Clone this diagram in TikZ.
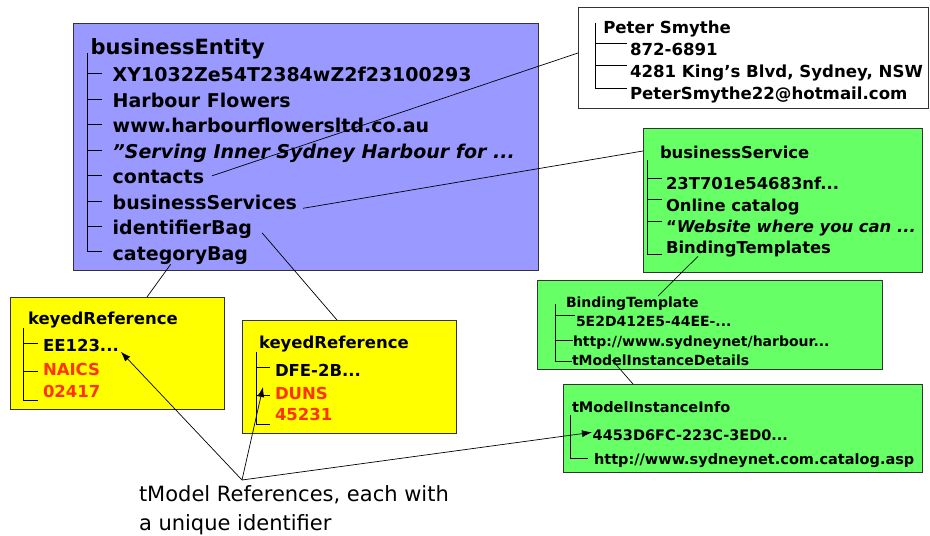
\documentclass[tikz,border=0pt]{standalone}
\usepackage{fontspec}
\setmainfont{DejaVu Sans}
\usetikzlibrary{arrows.meta,calc}

\definecolor{entblue}{HTML}{9999FF}
\definecolor{svcgreen}{HTML}{66FF66}
\definecolor{refyellow}{HTML}{FFFF00}
\definecolor{codered}{HTML}{FF3300}
\definecolor{edgegray}{HTML}{333333}

\newcommand{\fsz}[1]{\fontsize{#1}{#1}\selectfont}

\begin{document}
\begin{tikzpicture}[x=1pt,y=-1pt,
  panel/.style={draw=edgegray, line width=1pt, anchor=north west, inner sep=0pt, outer sep=0pt},
  lbl/.style={anchor=base west, inner sep=0pt, outer sep=0pt},
  tree/.style={line width=0.8pt, black},
  link/.style={line width=0.7pt, black},
  ptr/.style={line width=0.7pt, black, -{Latex[length=10pt,width=7pt]}}]
\useasboundingbox (0,0) rectangle (930,536);

% ---------- panels ----------
\node[panel, fill=entblue,   minimum width=465pt, minimum height=247pt] (ent) at (73,23)  {};
\node[panel, fill=white,     minimum width=350pt, minimum height=101pt] (pbox) at (578,7) {};
\node[panel, fill=svcgreen,  minimum width=279pt, minimum height=144pt] (svc) at (643,128) {};
\node[panel, fill=svcgreen,  minimum width=345pt, minimum height=89pt]  (bt)  at (537,280) {};
\node[panel, fill=svcgreen,  minimum width=359pt, minimum height=88pt]  (tmi) at (563,384) {};
\node[panel, fill=refyellow, minimum width=214pt, minimum height=112pt] (kra) at (10,297)  {};
\node[panel, fill=refyellow, minimum width=214pt, minimum height=113pt] (krb) at (242,320) {};

% ---------- businessEntity ----------
\begin{scope}[every node/.style={lbl, font=\bfseries\fsz{19}}]
\node[font=\bfseries\fsz{21}] (entT) at (90.7,54.3) {businessEntity};
\node (e1) at (112.7,81.7)  {XY1032Ze54T2384wZ2f23100293};
\node (e2) at (112.7,107.3) {Harbour Flowers};
\node (e3) at (112.7,132.8) {www.harbourflowersltd.co.au};
\node (e4) at (112.7,158.3) {\itshape \char34 Serving Inner Sydney Harbour for ...};
\node (e5) at (112.7,183.8) {contacts};
\node (e6) at (112.7,209.3) {businessServices};
\node (e7) at (112.7,234.8) {identifierBag};
\node (e8) at (112.7,260.3) {categoryBag};
\end{scope}
\draw[tree] (87.3,53.3) |- ($(e8.base west)+(-11,-8.6)$);
\foreach \n in {e1,e2,e3,e4,e5,e6,e7}
  \draw[tree] ($(\n.base west)+(-25.4,-8)$) -- ++(14.4,0);

% ---------- contact ----------
\begin{scope}[every node/.style={lbl, font=\bfseries\fsz{16.6}}]
\node (pT) at (603.3,33.3) {Peter Smythe};
\node (p1) at (630,55)   {872-6891};
\node (p2) at (630,77.3) {4281 King’s Blvd, Sydney, NSW};
\node (p3) at (630,99.5) {PeterSmythe22@hotmail.com};
\end{scope}
\draw[tree] (595,22.7) |- ($(p3.base west)+(-3.3,-11.2)$);
\foreach \n in {p1,p2}
  \draw[tree] ($(\n.base west)+(-35,-11.5)$) -- ++(31.7,0);

% ---------- businessService ----------
\begin{scope}[every node/.style={lbl, font=\bfseries\fsz{16.4}}]
\node (sT) at (660,158.3) {businessService};
\node (s1) at (666,189.3) {23T701e54683nf...};
\node (s2) at (666,211)   {Online catalog};
\node (s3) at (666,232.7) {“\itshape Website where you can ...};
\node (s4) at (666,253.3) {BindingTemplates};
\end{scope}
\draw[tree] (647.3,160) |- ($(s4.base west)+(-4.3,0.7)$);
\foreach \n in {s1,s2,s3}
  \draw[tree] ($(\n.base west)+(-18.7,-11.3)$) -- ++(14.4,0);

% ---------- BindingTemplate ----------
\begin{scope}[every node/.style={lbl, font=\bfseries\fsz{14}}]
\node (bT) at (566,307)   {BindingTemplate};
\node (b1) at (576,326.7) {5E2D412E5-44EE-...};
\node (b2) at (573,346)   {http://www.sydneynet/harbour...};
\node (b3) at (572,365)   {tModelInstanceDetails};
\end{scope}
\draw[tree] (555,304.3) |- ($(b3.base west)+(0,-4)$);
\draw[tree] ($(b1.base west)+(-21,-11)$) -- ++(20,0);
\draw[tree] ($(b2.base west)+(-18,-6)$) -- ++(18,0);

% ---------- tModelInstanceInfo ----------
\begin{scope}[every node/.style={lbl, font=\bfseries\fsz{14.5}}]
\node (tT) at (572,412.3) {tModelInstanceInfo};
\node (t1) at (592.7,440) {4453D6FC-223C-3ED0...};
\node (t2) at (594,464)   {http://www.sydneynet.com.catalog.asp};
\end{scope}
\draw[tree] (570,415) |- ($(t2.base west)+(-5.7,-5.7)$);

% ---------- keyedReference (category) ----------
\begin{scope}[every node/.style={lbl, font=\bfseries\fsz{16.5}}]
\node (kaT) at (28,324.3) {keyedReference};
\node (ka1) at (43,351.7) {EE123...};
\node[text=codered] (ka2) at (43,375.7) {NAICS};
\node[text=codered] (ka3) at (43,397.7) {02417};
\end{scope}
\draw[tree] (23.3,328.3) |- ($(ka3.base west)+(-4.7,2.3)$);
\draw[tree] ($(ka1.base west)+(-19.7,-8.4)$) -- ++(15,0);
\draw[tree] ($(ka2.base west)+(-19.7,-4.7)$) -- ++(15,0);

% ---------- keyedReference (identifier) ----------
\begin{scope}[every node/.style={lbl, font=\bfseries\fsz{16.5}}]
\node (kbT) at (259,348.3) {keyedReference};
\node (kb1) at (275,376)   {DFE-2B...};
\node[text=codered] (kb2) at (275,399.3) {DUNS};
\node[text=codered] (kb3) at (275,420.7) {45231};
\end{scope}
\draw[tree] (256,351.7) |- ($(kb3.base west)+(-5,3.3)$);
\draw[tree] ($(kb1.base west)+(-19,-8.3)$) -- ++(14,0);
\draw[tree] ($(kb2.base west)+(-19,-4.3)$) -- ++(14,0);

% ---------- links between structures ----------
\draw[link] ($(e5.base east)+(8,-8)$) -- ($(pbox.north west)+(0,46)$);
\draw[link] ($(e6.base east)+(6,-1)$) -- ($(svc.north west)+(0,23)$);
\draw[link] ($(s4.base west)+(32,3)$) -- ($(bT.base west)+(92,-11)$);
\draw[link] ($(b3.base west)+(40,-5)$) -- ($(tmi.north west)+(70,0)$);
\draw[link] ($(e8.base west)+(58,4)$) -- ($(kra.north west)+(137,0)$);
\draw[link] ($(e7.base east)+(10,-2)$) -- ($(krb.north west)+(95,0)$);

% ---------- annotation ----------
\node[lbl, font=\fsz{21}] (note1) at (139,501.7) {tModel References, each with};
\node[lbl, font=\fsz{21}] (note2) at (139,530)   {a unique identifier};
\coordinate (apex) at (242,480);
\draw[ptr] (apex) -- ($(ka1.base east)+(2,0)$);
\draw[ptr] (apex) -- ($(kb2.base west)+(-12,-12.3)$);
\draw[ptr] (apex) -- ($(t1.base west)+(-0.7,-7.7)$);
\end{tikzpicture}
\end{document}
